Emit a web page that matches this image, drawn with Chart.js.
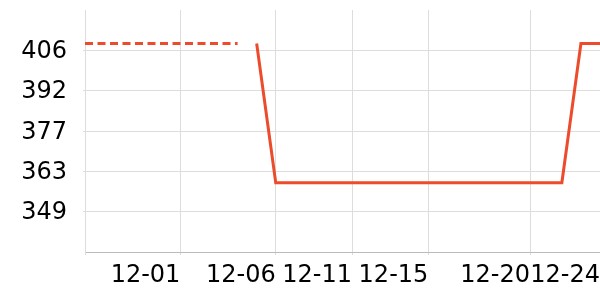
<!DOCTYPE html>
<html>
<head>
<meta charset="utf-8">
<script src="https://cdn.jsdelivr.net/npm/chart.js@4/dist/chart.umd.min.js"></script>
<style>
  html, body { margin: 0; padding: 0; background: #fff; }
  #wrap { width: 600px; height: 300px; }
</style>
</head>
<body>
<div id="wrap"><canvas id="chart"></canvas></div>
<script>
// x runs in 8-hour steps from the left edge of the plot
const xTickSteps = [0, 15, 30, 42, 54, 70, 81];
const xTickLabels = ['', '12-01', '12-06', '12-11', '12-15', '12-20', '12-24'];

const yTickValues = [349, 363.25, 377.5, 391.75, 406];
const yTickLabels = ['349', '363', '377', '392', '406'];

// dashed part (earlier estimate)
const dashSteps = [0, 24];
const dashValues = [408.4, 408.4];

// solid part
const solidSteps = [27, 30, 75, 78, 81];
const solidValues = [408.4, 359.2, 359.2, 408.4, 408.4];

const LINE_COLOR = '#ec4b2c';
const GRID_COLOR = '#dddddd';
const AXIS_COLOR = '#bbbbbb';
const FONT = { family: 'DejaVu Sans', size: 24 };

function toPoints(xs, ys) {
    return xs.map((x, i) => ({ x: x, y: ys[i] }));
}

// drop the label overhang padding Chart.js adds around the plot
function noPadding(scale) {
    scale.paddingTop = 0;
    scale.paddingBottom = 0;
    scale.paddingLeft = 0;
    scale.paddingRight = 0;
}

new Chart(document.getElementById('chart').getContext('2d'), {
    type: 'line',
    data: {
        datasets: [{
            data: toPoints(dashSteps, dashValues),
            borderColor: LINE_COLOR,
            borderWidth: 3,
            borderDash: [8, 4.5],
            pointRadius: 0,
            tension: 0
        }, {
            data: toPoints(solidSteps, solidValues),
            borderColor: LINE_COLOR,
            borderWidth: 3,
            borderJoinStyle: 'miter',
            pointRadius: 0,
            tension: 0
        }]
    },
    options: {
        responsive: true,
        maintainAspectRatio: false,
        animation: false,
        layout: { padding: { top: 10, left: 0, right: 0, bottom: 0 } },
        plugins: {
            legend: { display: false },
            tooltip: { enabled: false }
        },
        scales: {
            x: {
                type: 'linear',
                min: 0,
                max: 81,
                afterBuildTicks: (scale) => {
                    scale.ticks = xTickSteps.map(v => ({ value: v }));
                },
                afterFit: (scale) => {
                    scale.height = 48;
                    noPadding(scale);
                },
                ticks: {
                    autoSkip: false,
                    maxRotation: 0,
                    align: 'end',
                    padding: 6.5,
                    color: '#000',
                    font: FONT,
                    callback: (value) => xTickLabels[xTickSteps.indexOf(value)]
                },
                grid: { color: GRID_COLOR, tickLength: 3, tickColor: GRID_COLOR },
                border: { color: AXIS_COLOR }
            },
            y: {
                min: 334.75,
                max: 420.25,
                afterBuildTicks: (scale) => {
                    scale.ticks = yTickValues.map(v => ({ value: v }));
                },
                afterFit: (scale) => {
                    scale.width = 85;
                    noPadding(scale);
                },
                ticks: {
                    padding: 16,
                    labelOffset: 1.5,
                    color: '#000',
                    font: FONT,
                    callback: (value) => yTickLabels[yTickValues.indexOf(value)]
                },
                grid: { color: GRID_COLOR, tickLength: 2 },
                border: { color: GRID_COLOR }
            }
        }
    }
});
</script>
</body>
</html>
